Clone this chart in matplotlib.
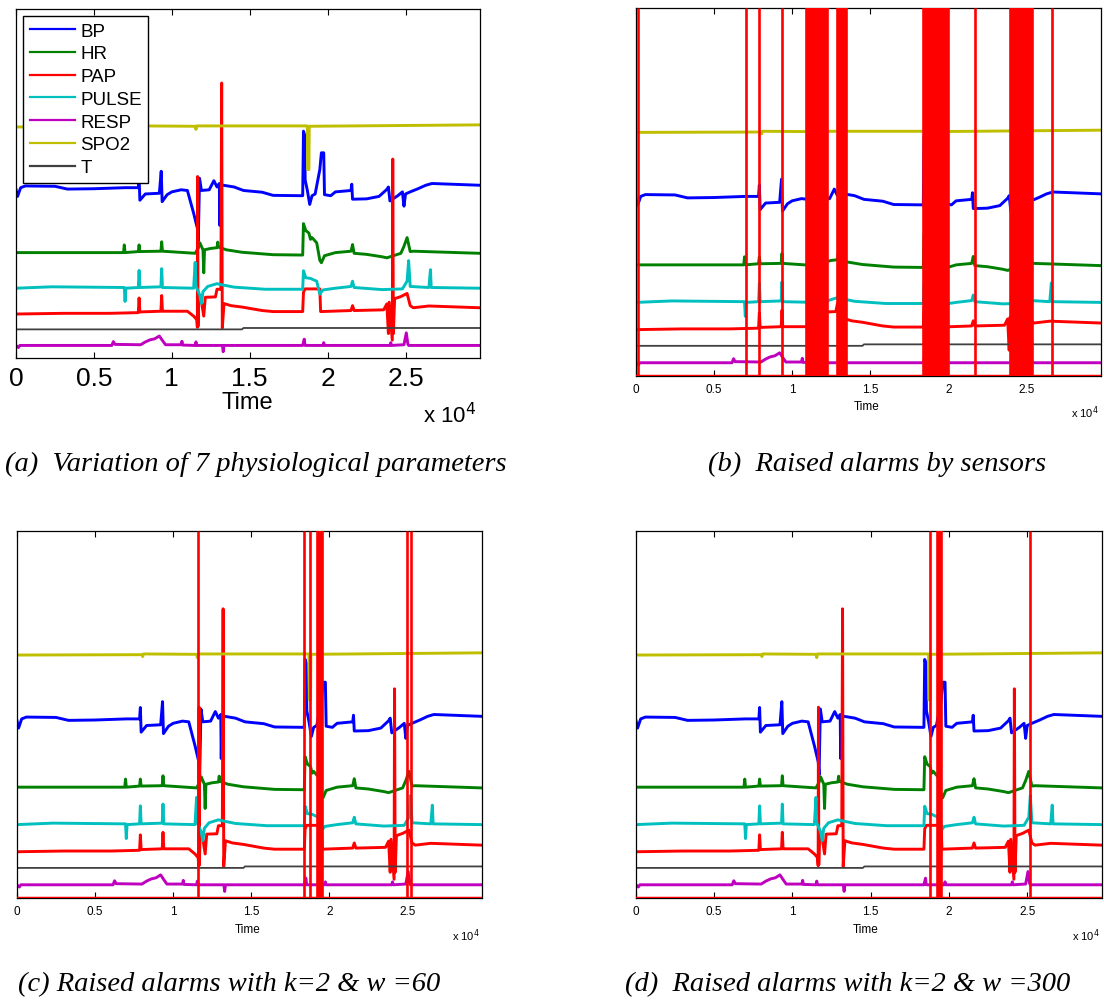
import numpy as np
import matplotlib
matplotlib.use("Agg")
import matplotlib.pyplot as plt

plt.rcParams['font.family'] = 'Liberation Sans'

# time axis in samples, values are stacked levels (arbitrary units, 0-100)
BP_t = [0, 100, 300, 600, 2500, 3300, 5000, 7000, 7850, 7900, 7950, 8300, 9200,
        9320, 9380, 9700, 10000, 10600, 11000, 11400, 11650, 11700, 11780, 11900,
        12400, 12700, 12900, 13050, 13080, 13120, 13300, 14000, 14600, 15800,
        16500, 18400, 18450, 18520, 18560, 18700, 18850, 19000, 19200, 19500,
        19600, 19750, 19800, 20200, 20500, 21500, 21550, 21600, 22500, 23300,
        23800, 23900, 24000, 24500, 24800, 24900, 25000, 25300, 25800, 26300,
        26700, 29750]
BP_v = [48.3, 46.3, 48.8, 49.3, 49.2, 48.4, 48.5, 48.8, 48.8, 51.9, 45.2, 47.0, 47.2,
        53.5, 44.8, 46.8, 47.6, 48.2, 48.0, 41.5, 37.0, 33.5, 51.5, 48.0,
        48.2, 50.8, 49.0, 50.0, 38.0, 49.8, 49.5, 49.0, 48.0, 47.5,
        46.6, 46.5, 65.0, 64.0, 51.0, 48.0, 44.0, 46.5, 47.0, 54.0,
        58.8, 58.8, 46.8, 46.5, 47.6, 48.0, 49.8, 45.5, 45.6, 46.3,
        48.3, 49.0, 45.0, 46.5, 47.6, 43.5, 47.0, 47.6, 48.5, 49.5,
        50.0, 49.5]

HR_t = [0, 6900, 6950, 7000, 7850, 7900, 7950, 9300, 9350, 9400, 11500, 11700,
        11800, 12000, 12050, 12100, 12500, 12900, 12950, 13000, 13500, 14500,
        16500, 18400, 18450, 18600, 18800, 18900, 19000, 19300, 19500, 19600,
        19800, 20500, 21500, 21600, 21700, 22500, 23500, 23800, 24700, 24900,
        25100, 25300, 25500, 29750]
HR_v = [30.2, 30.2, 32.4, 30.2, 30.5, 32.4, 30.5, 30.6, 33.3, 30.6, 30.0, 31.5,
        33.0, 31.0, 24.4, 31.0, 31.4, 31.6, 33.2, 31.8, 31.0, 30.3,
        29.6, 29.5, 38.5, 36.5, 35.8, 34.0, 34.5, 33.0, 28.0, 27.3,
        29.3, 30.2, 30.6, 32.5, 30.0, 29.7, 29.0, 28.7, 30.0, 32.0,
        34.5, 30.5, 30.6, 30.0]

PAP_t = [0, 3000, 6000, 7850, 7900, 7950, 9300, 9350, 9400, 11000, 11400, 11600,
         11640, 11660, 11680, 11720, 11900, 12050, 12150, 12800, 12900, 13150,
         13200, 13240, 13350, 13800, 14500, 15800, 16500, 18400, 18450, 18550,
         19500, 19550, 21500, 21600, 21700, 23600, 23800, 23900, 23950, 24150,
         24180, 24220, 24300, 24700, 25100, 25300, 25500, 26500, 29750]
PAP_v = [12.6, 12.8, 12.8, 13.0, 17.2, 13.2, 13.4, 17.9, 13.4, 13.4, 12.0, 11.0,
         8.8, 52.0, 9.0, 16.0, 16.2, 12.0, 17.4, 17.5, 19.7, 19.7,
         78.8, 8.6, 15.6, 15.0, 14.6, 13.6, 13.3, 13.3, 18.8, 19.8,
         19.8, 13.3, 13.6, 15.0, 13.6, 13.8, 15.5, 7.0, 16.0, 5.1,
         57.0, 7.0, 17.0, 17.6, 18.5, 15.0, 14.4, 14.9, 14.4]

PULSE_t = [0, 2300, 6950, 7000, 7050, 7850, 7900, 7950, 9300, 9350, 9400, 11400,
           11500, 11550, 11800, 11900, 12000, 12300, 12900, 13200, 14000, 16000,
           18400, 18450, 18600, 18900, 19300, 19500, 19700, 20500, 21500, 21600,
           21700, 23500, 24800, 25100, 25200, 25300, 26500, 26600, 26650, 29750]
PULSE_v = [20.0, 20.4, 20.2, 16.2, 20.0, 20.2, 25.1, 20.2, 20.4, 25.6, 20.2, 20.0,
           27.4, 20.5, 18.0, 15.6, 19.0, 20.5, 21.3, 21.0, 20.3, 19.7,
           19.7, 25.0, 23.0, 22.8, 22.0, 18.3, 19.5, 20.0, 20.5, 22.0,
           20.2, 19.6, 19.8, 22.0, 27.9, 20.5, 20.2, 25.3, 20.2, 20.0]

RESP_t = [0, 150, 250, 6150, 6250, 6350, 8000, 8300, 8600, 8900, 9200, 9400, 9600,
          10600, 10650, 10700, 11500, 11550, 11600, 13250, 13300, 13350, 18400,
          18500, 18550, 19700, 19750, 19800, 24000, 24050, 24100, 24900, 25050,
          25150, 25200, 29750]
RESP_v = [3.6, 3.0, 3.6, 3.6, 4.7, 3.9, 3.8, 4.6, 5.2, 5.5, 6.3, 5.0, 3.8,
          3.8, 4.8, 3.7, 3.6, 4.6, 3.6, 3.6, 1.8, 3.6, 3.6,
          5.4, 3.6, 3.6, 4.4, 3.6, 3.6, 4.4, 3.6, 3.8, 7.2,
          4.0, 3.6, 3.6]

SPO2_t = [0, 8000, 8050, 8100, 11500, 11550, 11600, 18700, 18720, 18800, 18820, 29750]
SPO2_v = [66.2, 66.3, 65.8, 66.5, 66.4, 65.5, 66.5, 66.5, 54.0, 54.0, 66.4, 66.8]

T_t = [0, 14500, 14600, 29750]
T_v = [8.2, 8.2, 8.6, 8.6]

LABELS = ["BP", "HR", "PAP", "PULSE", "RESP", "SPO2", "T"]
COLORS = [(0, 0, 1), (0, 0.5, 0), (1, 0, 0), (0, 0.75, 0.75),
          (0.75, 0, 0.75), (0.75, 0.75, 0), (0.25, 0.25, 0.25)]
SERIES = [(BP_t, BP_v), (HR_t, HR_v), (PAP_t, PAP_v), (PULSE_t, PULSE_v),
          (RESP_t, RESP_v), (SPO2_t, SPO2_v), (T_t, T_v)]

# alarm intervals (start, end) in samples
ALARMS_B = [(150, 150), (7030, 7030), (7880, 7880), (9340, 9340), (10900, 12260),
            (12880, 13440), (18350, 19980), (21690, 21690), (23930, 25360),
            (26620, 26620)]
ALARMS_C = [(11560, 11560), (18410, 18410), (18770, 18770), (19200, 19540),
            (24960, 24960), (25210, 25210)]
ALARMS_D = [(18780, 18780), (19250, 19460), (25170, 25170)]

TICKS = [0, 5000, 10000, 15000, 20000, 25000]
TICKLABELS = ["0", "0.5", "1", "1.5", "2", "2.5"]

CAPTIONS = ["(a)  Variation of 7 physiological parameters",
            "(b)  Raised alarms by sensors",
            "(c) Raised alarms with k=2 & w =60",
            "(d)  Raised alarms with k=2 & w =300"]

W, H = 1104, 1004


def box(l, t, r, b):
    return [l / W, 1 - b / H, (r - l) / W, (b - t) / H]


def px(x, y):
    return x / W, 1 - y / H


def panel(rect, alarms, fs, pad):
    ax = fig.add_axes(rect)
    lines = []
    for (t, v), c, lab in zip(SERIES, COLORS, LABELS):
        lw = 1.3 if lab == "T" else 2.1
        l, = ax.plot(t, v, color=c, lw=lw, label=lab)
        lines.append(l)
    if alarms is not None:
        for s, e in alarms:
            ax.axvspan(s, e, color='red', lw=1.9, zorder=5)
        ax.axhline(0, color='red', lw=2.5, zorder=5)
    ax.set_xlim(0, 29780)
    ax.set_ylim(0, 100)
    ax.set_yticks([])
    ax.set_xticks(TICKS)
    ax.set_xticklabels(TICKLABELS, fontsize=fs)
    ax.tick_params(axis='x', direction='in', top=True, length=4, pad=pad,
                   width=0.8)
    for sp in ax.spines.values():
        sp.set_linewidth(0.9)
    return ax, lines


fig = plt.figure(figsize=(W / 100, H / 100), dpi=100)

axa, lines = panel(box(16, 10, 480, 359), None, 19, 6)
leg = axa.legend(lines, LABELS, loc='upper left', bbox_to_anchor=(0.015, 0.98),
                 borderaxespad=0, fontsize=13.5, labelspacing=0.3,
                 handlelength=2.4, handletextpad=0.3, fancybox=False,
                 edgecolor='black', framealpha=1, borderpad=0.35)
for h in leg.get_lines():
    h.set_linewidth(1.6)
fig.text(*px(247, 403), "Time", fontsize=17, ha='center', va='center')
fig.text(*px(450, 416), r"x 10$^4$", fontsize=16, ha='center', va='center')

panel(box(636, 9, 1101, 377), ALARMS_B, 8.5, 5)
fig.text(*px(867, 407), "Time", fontsize=8.5, ha='center', va='center')
fig.text(*px(1085, 413), r"x 10$^4$", fontsize=8, ha='center', va='center')

panel(box(17, 532, 482, 899), ALARMS_C, 8.5, 5)
fig.text(*px(248, 930), "Time", fontsize=8.5, ha='center', va='center')
fig.text(*px(466, 936), r"x 10$^4$", fontsize=8, ha='center', va='center')

panel(box(636, 532, 1102, 899), ALARMS_D, 8.5, 5)
fig.text(*px(866, 930), "Time", fontsize=8.5, ha='center', va='center')
fig.text(*px(1086, 936), r"x 10$^4$", fontsize=8, ha='center', va='center')

cap_pos = [(5, 464), (708, 464), (18, 985), (625, 985)]
for (x, y), txt in zip(cap_pos, CAPTIONS):
    fig.text(*px(x, y), txt, fontsize=20.5, family='Liberation Serif',
             style='italic', ha='left', va='center')

fig.savefig("out.png", dpi=100)
